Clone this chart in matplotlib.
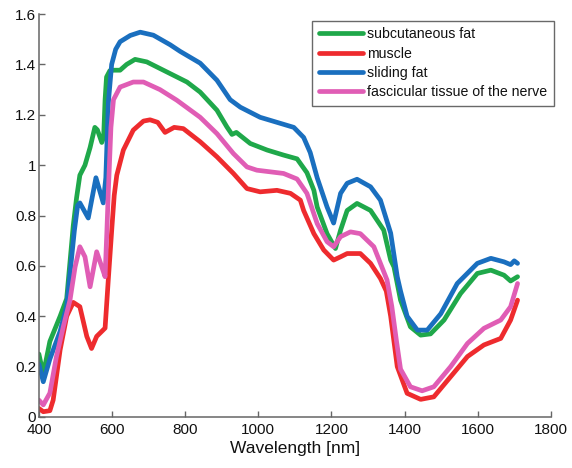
import matplotlib.pyplot as plt

plt.rcParams['font.family'] = ['Liberation Sans', 'DejaVu Sans']

# reflectance spectra, read per tissue type
fat_wl = [400, 412, 430, 458, 476, 494, 503, 512, 526, 540, 553, 560, 572, 577,
          581, 585, 594, 604, 622, 640, 663, 695, 750, 805, 841, 887, 914, 928,
          940, 978, 1024, 1069, 1106, 1133, 1152, 1161, 1188, 1211, 1225, 1243,
          1270, 1307, 1343, 1362, 1371, 1389, 1416, 1444, 1471, 1508, 1553, 1599,
          1636, 1672, 1690, 1709]
fat = [0.25, 0.17, 0.30, 0.40, 0.47, 0.76, 0.87, 0.96, 1.00, 1.07, 1.15, 1.14,
       1.09, 1.11, 1.26, 1.35, 1.375, 1.377, 1.377, 1.40, 1.42, 1.41, 1.37, 1.33,
       1.29, 1.218, 1.152, 1.122, 1.13, 1.086, 1.06, 1.04, 1.025, 0.97, 0.90,
       0.834, 0.728, 0.669, 0.742, 0.82, 0.848, 0.82, 0.742, 0.623, 0.596, 0.464,
       0.358, 0.325, 0.33, 0.385, 0.49, 0.57, 0.583, 0.563, 0.54, 0.557]

muscle_wl = [400, 412, 430, 439, 458, 476, 494, 512, 531, 544, 558, 572, 581,
             590, 600, 606, 613, 631, 658, 686, 704, 725, 745, 770, 795, 841, 887,
             932, 969, 1005, 1051, 1088, 1115, 1124, 1152, 1179, 1206, 1225, 1243,
             1279, 1307, 1334, 1350, 1362, 1380, 1407, 1444, 1480, 1526, 1572,
             1617, 1663, 1690, 1709]
muscle = [0.034, 0.021, 0.025, 0.067, 0.266, 0.40, 0.455, 0.438, 0.32, 0.272,
          0.32, 0.34, 0.353, 0.55, 0.76, 0.88, 0.96, 1.06, 1.139, 1.175, 1.18,
          1.17, 1.13, 1.15, 1.145, 1.093, 1.033, 0.967, 0.907, 0.894, 0.90, 0.888,
          0.861, 0.82, 0.728, 0.663, 0.623, 0.636, 0.649, 0.649, 0.61, 0.55, 0.50,
          0.40, 0.20, 0.094, 0.07, 0.08, 0.16, 0.24, 0.286, 0.312, 0.385, 0.464]

sliding_wl = [400, 412, 430, 458, 476, 497, 506, 512, 535, 556, 566, 576, 583,
              590, 599, 610, 622, 650, 677, 713, 759, 786, 841, 887, 923, 951,
              1005, 1051, 1097, 1124, 1142, 1161, 1188, 1206, 1225, 1243, 1270,
              1307, 1334, 1362, 1380, 1389, 1407, 1435, 1462, 1499, 1544, 1599,
              1636, 1672, 1690, 1700, 1709]
sliding = [0.21, 0.14, 0.23, 0.34, 0.44, 0.74, 0.84, 0.85, 0.79, 0.95, 0.90,
           0.85, 0.95, 1.25, 1.40, 1.46, 1.49, 1.515, 1.528, 1.516, 1.478, 1.452,
           1.405, 1.337, 1.26, 1.23, 1.19, 1.17, 1.15, 1.11, 1.05, 0.95, 0.834,
           0.77, 0.888, 0.928, 0.944, 0.914, 0.861, 0.73, 0.557, 0.50, 0.40,
           0.345, 0.345, 0.41, 0.53, 0.61, 0.63, 0.616, 0.605, 0.62, 0.61]

nerve_wl = [400, 412, 430, 448, 467, 485, 499, 512, 526, 540, 558, 572, 581,
            586, 590, 597, 604, 622, 658, 686, 731, 777, 841, 887, 932, 969, 996,
            1069, 1106, 1133, 1161, 1188, 1206, 1225, 1252, 1279, 1316, 1334,
            1352, 1365, 1378, 1389, 1416, 1448, 1480, 1526, 1572, 1617, 1663,
            1690, 1709]
nerve = [0.067, 0.048, 0.095, 0.24, 0.36, 0.464, 0.596, 0.676, 0.636, 0.517,
         0.656, 0.596, 0.557, 0.74, 0.90, 1.15, 1.26, 1.31, 1.33, 1.33, 1.30,
         1.258, 1.19, 1.125, 1.046, 0.993, 0.98, 0.967, 0.945, 0.888, 0.768,
         0.696, 0.676, 0.716, 0.735, 0.728, 0.676, 0.61, 0.544, 0.44, 0.30, 0.19,
         0.12, 0.104, 0.12, 0.20, 0.292, 0.352, 0.385, 0.438, 0.53]

labels = ['subcutaneous fat', 'muscle', 'sliding fat',
          'fascicular tissue of the nerve']
colors = ['#1fa84a', '#ee2b2e', '#1a6fbf', '#e05db5']

yticks = [0, 0.2, 0.4, 0.6, 0.8, 1, 1.2, 1.4, 1.6]
ytick_labels = ['0', '0.2', '0.4', '0.6', '0.8', '1', '1.2', '1.4', '1.6']

fig = plt.figure(figsize=(5.72, 4.68), dpi=100)
ax = fig.add_axes([0.068, 0.109, 0.895, 0.861])

series = [(fat_wl, fat), (muscle_wl, muscle), (sliding_wl, sliding),
          (nerve_wl, nerve)]
for (wl, vals), lab, col in zip(series, labels, colors):
    ax.plot(wl, vals, color=col, lw=3.4, label=lab,
            solid_joinstyle='round', solid_capstyle='round')

ax.set_xlim(400, 1800)
ax.set_ylim(0, 1.6)
ax.set_xticks(range(400, 1801, 200))
ax.set_yticks(yticks)
ax.set_yticklabels(ytick_labels)

for side in ['top', 'right']:
    ax.spines[side].set_visible(False)
for side in ['left', 'bottom']:
    ax.spines[side].set_color('#666666')
    ax.spines[side].set_linewidth(1.1)

ax.tick_params(direction='in', length=4, width=1, color='#666666',
               labelsize=11, labelcolor='#111111')
ax.tick_params(axis='x', pad=4)
ax.tick_params(axis='y', pad=2)
ax.set_xlabel('Wavelength [nm]', fontsize=12.5, color='#111111', labelpad=3)

leg = ax.legend(loc='upper right', bbox_to_anchor=(0.9685, 0.955),
                bbox_transform=fig.transFigure, fontsize=10.2, frameon=True,
                fancybox=False, borderaxespad=0, borderpad=0.45,
                labelspacing=0.37, handlelength=3.1, handletextpad=0.35)
leg.get_frame().set_edgecolor('#444444')
leg.get_frame().set_linewidth(1.0)
for t in leg.get_texts():
    t.set_color('#111111')

fig.savefig('out.png', dpi=100)
